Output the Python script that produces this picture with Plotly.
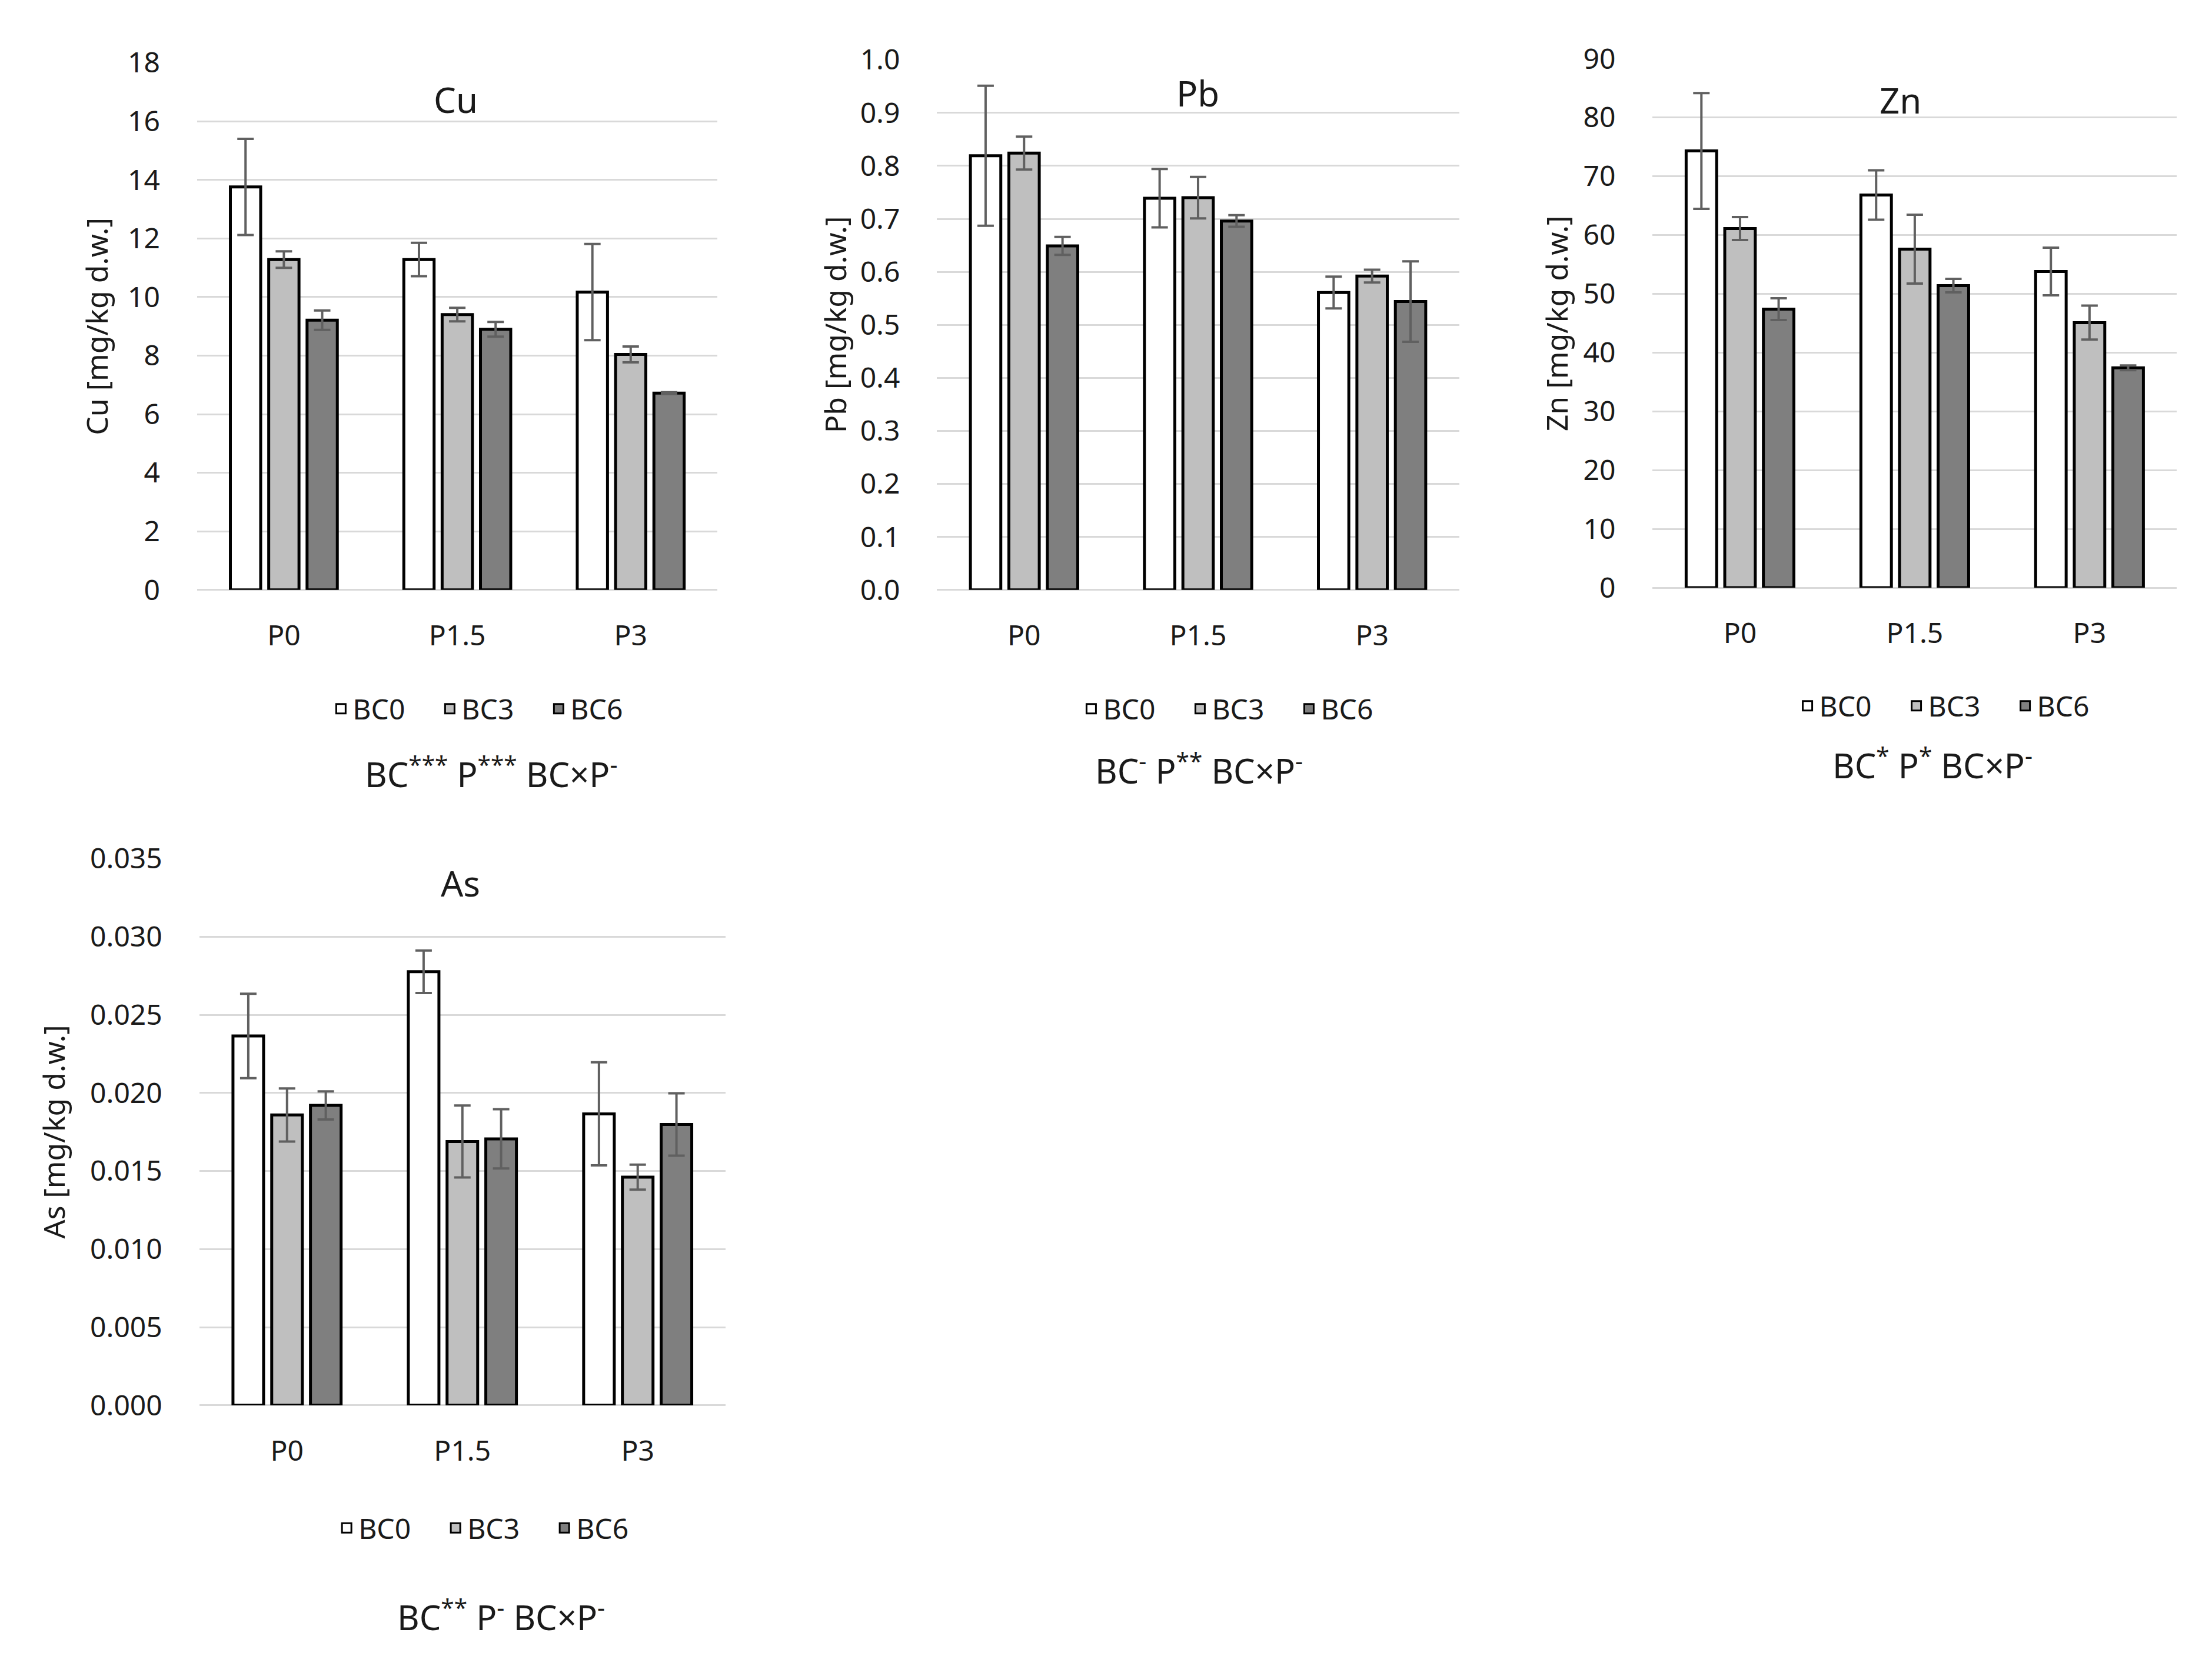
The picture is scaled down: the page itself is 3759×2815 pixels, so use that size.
import plotly.graph_objects as go

categories = ["P0", "P1.5", "P3"]
series_names = ["BC0", "BC3", "BC6"]
series_colors = ["#FFFFFF", "#BFBFBF", "#7F7F7F"]

# Cu
cu_bc0 = [13.76, 11.28, 10.17]
cu_bc3 = [11.28, 9.40, 8.04]
cu_bc6 = [9.21, 8.90, 6.72]
cu_bc0_err = [1.64, 0.57, 1.64]
cu_bc3_err = [0.28, 0.23, 0.27]
cu_bc6_err = [0.33, 0.25, 0.03]

# Pb
pb_bc0 = [0.819, 0.739, 0.561]
pb_bc3 = [0.824, 0.740, 0.592]
pb_bc6 = [0.649, 0.696, 0.544]
pb_bc0_err = [0.132, 0.055, 0.030]
pb_bc3_err = [0.031, 0.039, 0.012]
pb_bc6_err = [0.017, 0.011, 0.076]

# Zn
zn_bc0 = [74.3, 66.8, 53.8]
zn_bc3 = [61.1, 57.6, 45.1]
zn_bc6 = [47.4, 51.4, 37.4]
zn_bc0_err = [9.85, 4.2, 4.05]
zn_bc3_err = [1.95, 5.85, 2.9]
zn_bc6_err = [1.85, 1.15, 0.4]

# As
as_bc0 = [0.02365, 0.02776, 0.01866]
as_bc3 = [0.01859, 0.01689, 0.01461]
as_bc6 = [0.01920, 0.01706, 0.01798]
as_bc0_err = [0.0027, 0.00136, 0.0033]
as_bc3_err = [0.0017, 0.0023, 0.0008]
as_bc6_err = [0.0009, 0.0019, 0.0020]

panel_titles = ["Cu", "Pb", "Zn", "As"]
y_titles = ["Cu [mg/kg d.w.]", "Pb [mg/kg d.w.]", "Zn [mg/kg d.w.]", "As [mg/kg d.w.]"]
y_ranges = [[0, 18], [0, 1.0], [0, 90], [0, 0.035]]
y_dticks = [2, 0.1, 10, 0.005]
y_formats = ["d", ".1f", "d", ".3f"]
subtitles = [
    "BC<sup>***</sup> P<sup>***</sup> BC×P<sup>-</sup>",
    "BC<sup>-</sup> P<sup>**</sup> BC×P<sup>-</sup>",
    "BC<sup>*</sup> P<sup>*</sup> BC×P<sup>-</sup>",
    "BC<sup>**</sup> P<sup>-</sup> BC×P<sup>-</sup>",
]

panel_values = [
    [cu_bc0, cu_bc3, cu_bc6],
    [pb_bc0, pb_bc3, pb_bc6],
    [zn_bc0, zn_bc3, zn_bc6],
    [as_bc0, as_bc3, as_bc6],
]
panel_errors = [
    [cu_bc0_err, cu_bc3_err, cu_bc6_err],
    [pb_bc0_err, pb_bc3_err, pb_bc6_err],
    [zn_bc0_err, zn_bc3_err, zn_bc6_err],
    [as_bc0_err, as_bc3_err, as_bc6_err],
]

# layout geometry (paper fractions)
x_domains = [[0.0870, 0.3222], [0.4215, 0.6575], [0.7450, 0.9820], [0.0880, 0.3258]]
y_domains = [[0.6506, 0.9765], [0.6506, 0.9783], [0.6520, 0.9790], [0.1466, 0.4845]]
title_pos = [(0.204, 0.9537), (0.5395, 0.958), (0.857, 0.9533), (0.206, 0.4693)]
ytitle_pos = [(0.0415, 0.8135), (0.3755, 0.8144), (0.7015, 0.8155), (0.0222, 0.3156)]
legend_pos = [(0.2205, 0.5771), (0.5597, 0.5771), (0.8835, 0.5789), (0.2231, 0.0707)]
subtitle_pos = [(0.2200, 0.5380), (0.5400, 0.5399), (0.8715, 0.5431), (0.2245, 0.0168)]

FONT = "Noto Sans"
TXT = "#1a1a1a"
GRID = "#D9D9D9"

fig = go.Figure()
for p in range(4):
    ax = "" if p == 0 else str(p + 1)
    for s in range(3):
        fig.add_trace(go.Bar(
            x=categories,
            y=panel_values[p][s],
            name=series_names[s],
            marker=dict(color=series_colors[s], line=dict(color="#000000", width=5)),
            error_y=dict(type="data", array=panel_errors[p][s], color="#606060",
                         thickness=4, width=14),
            xaxis="x" + ax,
            yaxis="y" + ax,
            showlegend=False,
        ))
    # legend entries (square swatches)
    for s in range(3):
        fig.add_trace(go.Scatter(
            x=[None], y=[None], mode="markers",
            name=series_names[s],
            marker=dict(symbol="square", size=16, color=series_colors[s],
                        line=dict(color="#000000", width=3)),
            xaxis="x" + ax, yaxis="y" + ax,
            legend="legend" + ax, showlegend=True,
        ))

layout = dict(
    width=3759, height=2815,
    margin=dict(l=0, r=0, t=0, b=0),
    paper_bgcolor="white", plot_bgcolor="white",
    barmode="group", bargap=0.337, bargroupgap=0.21,
    font=dict(family=FONT, size=48, color=TXT),
    annotations=[],
)
for p in range(4):
    ax = "" if p == 0 else str(p + 1)
    layout["xaxis" + ax] = dict(
        domain=x_domains[p], anchor="y" + ax,
        showgrid=False, showline=False, zeroline=False,
        tickfont=dict(family=FONT, size=48, color=TXT),
        ticks="", ticklabelstandoff=45,
    )
    layout["yaxis" + ax] = dict(
        domain=y_domains[p], anchor="x" + ax,
        range=y_ranges[p], dtick=y_dticks[p], tickformat=y_formats[p],
        showgrid=True, gridcolor=GRID, gridwidth=3,
        zeroline=True, zerolinecolor=GRID, zerolinewidth=3,
        showline=False, ticks="", ticklabelstandoff=62,
        tickfont=dict(family=FONT, size=48, color=TXT),
    )
    layout["legend" + ax] = dict(
        orientation="h", x=legend_pos[p][0], y=legend_pos[p][1],
        xanchor="center", yanchor="middle",
        font=dict(family=FONT, size=48, color=TXT),
        bgcolor="rgba(0,0,0,0)", itemwidth=30, traceorder="normal",
        entrywidth=140, entrywidthmode="pixels",
    )
    layout["annotations"].append(dict(
        text=panel_titles[p], x=title_pos[p][0], y=title_pos[p][1],
        xref="paper", yref="paper", showarrow=False,
        font=dict(family=FONT, size=60, color=TXT), xanchor="center", yanchor="middle"))
    layout["annotations"].append(dict(
        text=y_titles[p], x=ytitle_pos[p][0], y=ytitle_pos[p][1],
        xref="paper", yref="paper", showarrow=False, textangle=-90,
        font=dict(family=FONT, size=50, color=TXT), xanchor="center", yanchor="middle"))
    layout["annotations"].append(dict(
        text=subtitles[p], x=subtitle_pos[p][0], y=subtitle_pos[p][1],
        xref="paper", yref="paper", showarrow=False,
        font=dict(family=FONT, size=58, color=TXT), xanchor="center", yanchor="middle"))

fig.update_layout(**layout)
fig.write_html("out.html")
